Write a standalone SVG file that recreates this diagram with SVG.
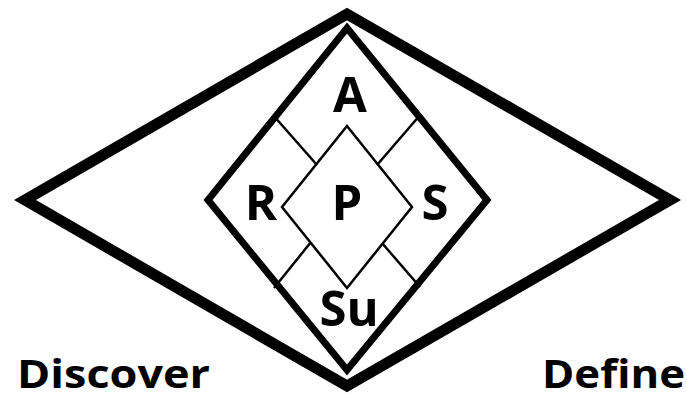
<svg xmlns="http://www.w3.org/2000/svg" width="687" height="399" viewBox="0 0 687 399">
<style>
.outer{fill:none;stroke:#000;stroke-width:11;stroke-linejoin:miter}
.inner{fill:none;stroke:#000;stroke-width:7;stroke-linejoin:miter}
.core{fill:none;stroke:#000;stroke-width:2.5}
.div{stroke:#000;stroke-width:2.5}
.lbl{font-family:"Open Sans","Liberation Sans",sans-serif;font-weight:bold;font-size:49px;fill:#000;text-anchor:middle}
.big{font-family:"Open Sans","Liberation Sans",sans-serif;font-weight:bold;font-size:40px;fill:#000}
</style>
<rect width="687" height="399" fill="#fff"/>
<g id="outer-diamond"><polygon class="outer" points="25,200 347,14 670,200 347,386"/></g>
<g id="inner-diamond"><polygon class="inner" points="347,28 487,200 347,370 208,200"/></g>
<g id="core-diamond"><polygon class="core" points="347,126 412,207 347,288 282,207"/></g>
<g id="connectors">
<line class="div" x1="273" y1="115" x2="317" y2="165"/>
<line class="div" x1="421" y1="114" x2="377" y2="165"/>
<line class="div" x1="382" y1="243" x2="420" y2="287"/>
<line class="div" x1="311" y1="242" x2="274" y2="288"/>
</g>
<g id="node-A"><text class="lbl" x="350" y="112">A</text></g>
<g id="node-R"><text class="lbl" x="261" y="220">R</text></g>
<g id="node-P"><text class="lbl" x="347" y="220">P</text></g>
<g id="node-S"><text class="lbl" x="435" y="220">S</text></g>
<g id="node-Su"><text class="lbl" x="349" y="326">Su</text></g>
<g id="label-discover"><text class="big" x="17" y="388" textLength="193" lengthAdjust="spacingAndGlyphs">Discover</text></g>
<g id="label-define"><text class="big" x="542" y="388" textLength="143" lengthAdjust="spacingAndGlyphs">Define</text></g>
</svg>
